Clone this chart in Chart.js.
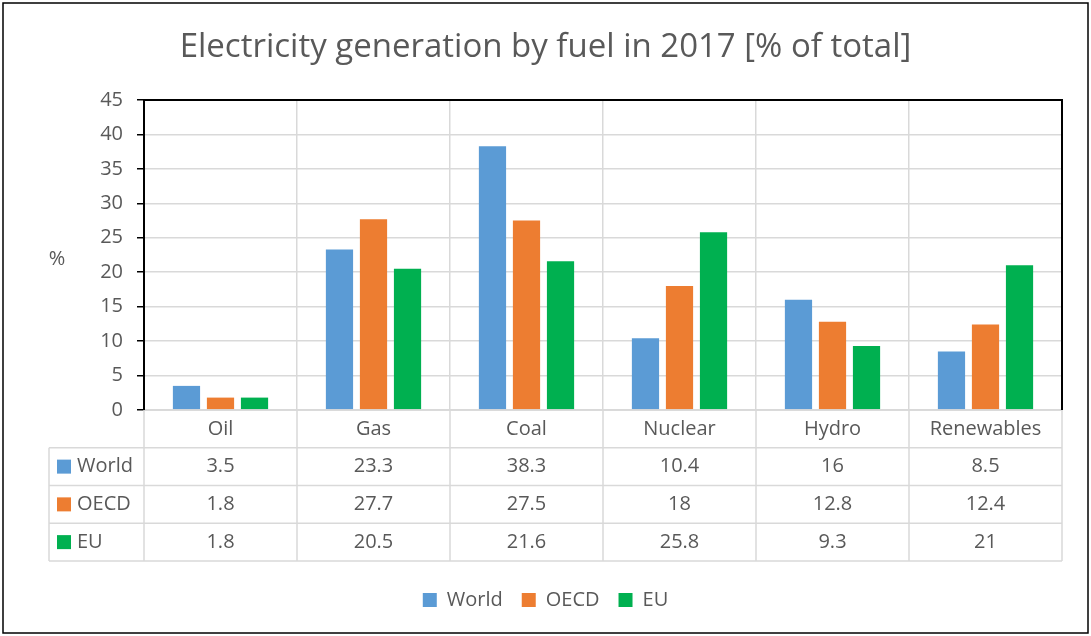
<!DOCTYPE html>
<html>
<head>
<meta charset="utf-8">
<script src="https://cdn.jsdelivr.net/npm/chart.js@4/dist/chart.umd.min.js"></script>
<style>
  html, body { margin: 0; padding: 0; background: #fff; }
  #wrap { width: 1091px; height: 636px; position: relative; }
</style>
</head>
<body>
<div id="wrap"><canvas id="chart"></canvas></div>
<script>
var categories = ["Oil", "Gas", "Coal", "Nuclear", "Hydro", "Renewables"];
var world = [3.5, 23.3, 38.3, 10.4, 16, 8.5];
var oecd = [1.8, 27.7, 27.5, 18, 12.8, 12.4];
var eu = [1.8, 20.5, 21.6, 25.8, 9.3, 21];
var seriesNames = ["World", "OECD", "EU"];
var seriesColors = ["#5B9BD5", "#ED7D31", "#00B050"];
var yMax = 45, yStep = 5;

var FONT = "Open Sans";
var FS = 20;
var TXT = "#595959";
var GRID = "#D9D9D9";
var ROW_H = 37.75;
var TABLE_H = 151;

// draws the data table under the bars, the black plot frame and the outer border
var tablePlugin = {
  id: "table",
  afterDraw: function(chart) {
    var ctx = chart.ctx;
    var a = chart.chartArea;
    var xs = chart.scales.x;
    var n = categories.length;
    var colW = (a.right - a.left) / n;
    var keyLeft = 49;
    var top = a.bottom;
    var rows = [world, oecd, eu];

    ctx.save();
    ctx.strokeStyle = GRID;
    ctx.lineWidth = 1.5;
    ctx.beginPath();
    for (var r = 0; r <= 4; r++) {
      var y = top + r * ROW_H;
      ctx.moveTo(r == 0 ? a.left : keyLeft, y);
      ctx.lineTo(a.right, y);
    }
    for (var i = 0; i <= n; i++) {
      var bx = a.left + i * colW;
      ctx.moveTo(bx, top);
      ctx.lineTo(bx, top + 4 * ROW_H);
    }
    ctx.moveTo(keyLeft, top + ROW_H);
    ctx.lineTo(keyLeft, top + 4 * ROW_H);
    ctx.stroke();

    ctx.font = FS + "px '" + FONT + "'";
    ctx.fillStyle = TXT;
    ctx.textAlign = "center";
    ctx.textBaseline = "middle";
    for (var i = 0; i < n; i++) {
      var cx = xs.getPixelForValue(i);
      ctx.fillText(categories[i], cx, top + ROW_H / 2);
      for (var r = 0; r < rows.length; r++) {
        ctx.fillText(String(rows[r][i]), cx, top + ROW_H * (r + 1.5));
      }
    }
    ctx.textAlign = "left";
    for (var r = 0; r < seriesNames.length; r++) {
      var cy = top + ROW_H * (r + 1.5);
      ctx.fillStyle = seriesColors[r];
      ctx.fillRect(57, cy - 7, 14, 14);
      ctx.fillStyle = TXT;
      ctx.fillText(seriesNames[r], 77, cy);
    }

    // "%" axis label, horizontal like the original
    ctx.textAlign = "center";
    ctx.fillText("%", 57, (a.top + a.bottom) / 2 + 4);

    // black frame: left, top, right of the plot
    ctx.strokeStyle = "#000";
    ctx.lineWidth = 2;
    ctx.beginPath();
    ctx.moveTo(a.left, a.bottom);
    ctx.lineTo(a.left, a.top);
    ctx.lineTo(a.right, a.top);
    ctx.lineTo(a.right, a.bottom);
    ctx.stroke();

    // outer border of the picture
    ctx.lineWidth = 1.5;
    ctx.strokeRect(3, 3, chart.width - 6, chart.height - 6);
    ctx.restore();
  }
};

var datasets = [world, oecd, eu].map(function(vals, k) {
  return {
    label: seriesNames[k],
    data: vals,
    backgroundColor: seriesColors[k],
    borderWidth: 0,
    categoryPercentage: 0.667,
    barPercentage: 0.8
  };
});

new Chart(document.getElementById("chart"), {
  type: "bar",
  data: { labels: categories, datasets: datasets },
  plugins: [tablePlugin],
  options: {
    responsive: true,
    maintainAspectRatio: false,
    animation: false,
    layout: { padding: { top: 0, left: 29, right: 29, bottom: 16 } },
    plugins: {
      title: {
        display: true,
        text: "Electricity generation by fuel in 2017 [% of total]",
        color: TXT,
        font: { family: FONT, size: 33, weight: "normal" },
        padding: { top: 28, bottom: 32.4 }
      },
      legend: {
        position: "bottom",
        labels: {
          color: TXT,
          font: { family: FONT, size: FS },
          boxWidth: 14,
          boxHeight: 14,
          padding: 19
        }
      },
      tooltip: { enabled: false }
    },
    scales: {
      x: {
        ticks: { display: false },
        grid: { color: GRID, lineWidth: 1.5, drawTicks: false, offset: true },
        border: { color: GRID, width: 1.5 },
        afterFit: function(s) { s.height = TABLE_H + 10; }
      },
      y: {
        min: 0,
        max: yMax,
        ticks: { stepSize: yStep, color: TXT, font: { family: FONT, size: FS }, padding: 14 },
        grid: { color: GRID, lineWidth: 1.5, tickLength: 7, tickColor: "#000" },
        border: { color: "#000", width: 2 },
        afterFit: function(s) { s.width = 115; }
      }
    }
  }
});
</script>
</body>
</html>
